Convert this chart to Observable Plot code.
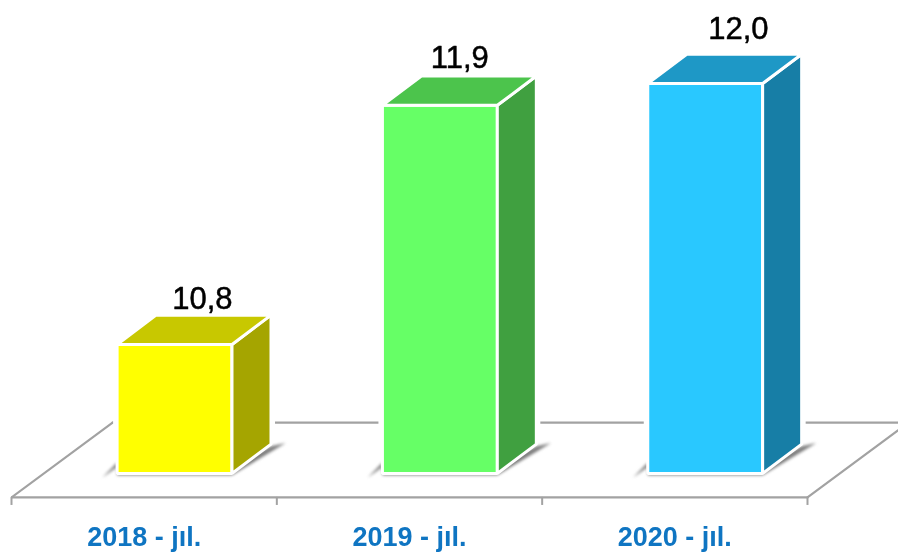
<!DOCTYPE html>
<html>
<head>
<meta charset="utf-8">
<style>
html,body{margin:0;padding:0;background:#fff;overflow:hidden}
svg{display:block;filter:blur(0.45px)}
</style>
<script src="https://cdn.jsdelivr.net/npm/d3@7"></script>
<script src="https://cdn.jsdelivr.net/npm/@observablehq/plot@0.6"></script>
</head>
<body>
<script>
const categories = ["2018 - jıl.", "2019 - jıl.", "2020 - jıl."];
const values = [10.8, 11.9, 12.0];
const valueLabels = ["10,8", "11,9", "12,0"];
const frontColors = ["#ffff00", "#66ff66", "#29c8ff"];
const topColors = ["#c8c800", "#4cc44c", "#1e98c6"];
const sideColors = ["#a5a500", "#40a040", "#177ea6"];

// Geometry of the pseudo-3D scene, in scale units (category steps / value units)
const base = 10.207, floorFront = 10.097, floorBack = 10.441, tickEnd = 10.06;
const barStart = 0.398, barWidth = 0.433, depthX = 0.147, depthY = 0.135;
const floorDepthX = 0.381;
const xMax = 3.343;
const labelDx = [0.105, 0.075, 0.125];
const labelDy = [0.163, 0.17, 0.205];

const polys = [], halos = [], shadows = [];
values.forEach((v, i) => {
  const a = i + barStart, b = a + barWidth, c = b + depthX, a2 = a + depthX, t = v + depthY, bb = base + depthY;
  const add = (arr, name, fill, pts) => pts.forEach(([x, y]) => arr.push({key: `${name}${i}`, fill, x, y}));
  add(polys, "front", frontColors[i], [[a, base], [b, base], [b, v], [a, v]]);
  add(polys, "side", sideColors[i], [[b, base], [c, bb], [c, t], [b, v]]);
  add(polys, "top", topColors[i], [[a, v], [b, v], [c, t], [a2, t]]);
  add(halos, "halo", "#ffffff", [[a, base], [b, base], [c, bb], [c, t], [a2, t], [a, v]]);
  add(shadows, "shadow", "#7c7c7c", [
    [a - 0.055, base - 0.018], [a, base + 0.05], [a, base - 0.008],
    [b, base - 0.008], [c + 0.055, bb + 0.005], [c, bb - 0.01], [b, base + 0.03], [a, base + 0.03]
  ]);
});

const floor = [
  {key: "front", x: 0, y: floorFront}, {key: "front", x: 3, y: floorFront},
  {key: "left", x: 0, y: floorFront}, {key: "left", x: floorDepthX, y: floorBack},
  {key: "back", x: floorDepthX, y: floorBack}, {key: "back", x: 3 + floorDepthX, y: floorBack},
  {key: "right", x: 3, y: floorFront}, {key: "right", x: 3 + floorDepthX, y: floorBack}
];
const gray = "#a2a2a2";
const poly = {x: "x", y: "y", z: "key", fill: "fill", curve: "linear-closed"};

const chart = Plot.plot({
  width: 898,
  height: 553,
  marginTop: 0, marginLeft: 11, marginRight: 0, marginBottom: 30,
  x: {domain: [0, xMax], axis: null},
  y: {domain: [9.977, 12.382], axis: null},
  color: {type: "identity"},
  style: {background: "#fff", fontFamily: "'Liberation Sans', Arial, sans-serif"},
  marks: [
    Plot.line(floor, {x: "x", y: "y", z: "key", stroke: gray, strokeWidth: 2.2, clip: true}),
    Plot.ruleX([0, 1, 2, 3], {y1: floorFront, y2: tickEnd, stroke: gray, strokeWidth: 2}),
    Plot.line(halos, {...poly, stroke: "#fff", strokeWidth: 8}),
    Plot.line(shadows, {...poly, stroke: "none", imageFilter: "blur(1.8px)"}),
    Plot.line(polys, {...poly, stroke: "#fff", strokeWidth: 3, strokeLinejoin: "miter"}),
    Plot.text(values.map((v, i) => ({v, i})), {
      x: d => d.i + barStart + barWidth / 2 + labelDx[d.i],
      y: d => d.v + labelDy[d.i],
      text: d => valueLabels[d.i],
      fontSize: 31, fill: "#000", stroke: "#000", strokeWidth: 0.5,
      lineAnchor: "bottom", textAnchor: "middle"
    }),
    Plot.axisX({
      ticks: [0.5, 1.5, 2.5],
      tickFormat: t => categories[Math.floor(t)],
      tickSize: 0, tickPadding: 3.5, label: null,
      fontSize: 27, fontWeight: "bold", color: "#0f75c2", lineAnchor: "top"
    })
  ]
});
document.body.appendChild(chart);
</script>
</body>
</html>
